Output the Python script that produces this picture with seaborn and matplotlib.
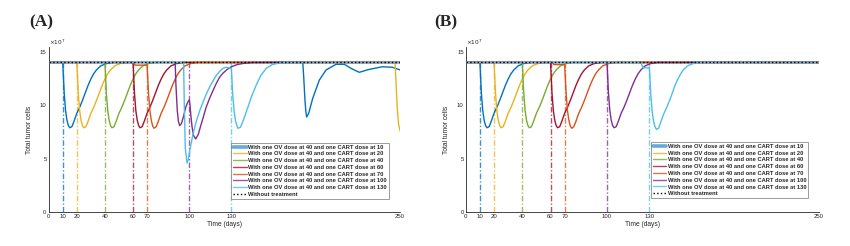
import matplotlib
matplotlib.use("Agg")
import matplotlib.pyplot as plt
import seaborn as sns
import pandas as pd
from matplotlib.lines import Line2D

sns.set_style("white")
plt.rcParams['font.family'] = ['Liberation Sans', 'DejaVu Sans']

# ---------------- data ----------------
LABELS = [
    "With one OV dose at 40 and one CART dose at 10",
    "With one OV dose at 40 and one CART dose at 20",
    "With one OV dose at 40 and one CART dose at 40",
    "With one OV dose at 40 and one CART dose at 60",
    "With one OV dose at 40 and one CART dose at 70",
    "With one OV dose at 40 and one CART dose at 100",
    "With one OV dose at 40 and one CART dose at 130",
]
BASE_LABEL = "Without treatment"
COLORS = ['#0072BD', '#EDB120', '#77AC30', '#A2142F', '#D95319', '#7E2F8E', '#4DBEEE']
CART_DOSES = [10, 20, 40, 60, 70, 100, 130]
STEM_TOP = [14, 14, 14, 14, 14, 14, 14]
XTICKS = [0, 10, 20, 40, 60, 70, 100, 130, 250]
YTICKS = [0, 5, 10, 15]
BASE_T = [0, 250]
BASE_V = [14, 14]

# ---- Panel A (values in units of 1e7 cells) ----
A10_T = [0, 10, 10.5, 11, 12, 13, 14, 15, 16.5, 18, 20, 22, 24, 26, 28, 30, 32, 34, 37, 41, 46,
         180.8, 181.5, 182.3, 183.0, 183.6, 185, 187.9, 192.6, 197.4, 204.5, 210.4, 215.1, 221, 228, 237.5, 244.6, 250]
A10_V = [14, 14, 12.6, 11.2, 9.5, 8.6, 8.1, 7.9, 8.0, 8.5, 9.25, 9.8, 10.45, 11.15, 11.85, 12.45, 12.95, 13.3, 13.68, 13.9, 14.0,
         14.0, 12.6, 10.6, 9.4, 8.9, 9.25, 10.65, 12.36, 13.3, 13.83, 13.83, 13.45, 13.08, 13.35, 13.6, 13.55, 13.3]
A20_T = [0, 20, 20.5, 21, 22, 23, 24, 25, 26.5, 28, 30, 32, 34, 36, 38, 40, 42, 44, 47, 51, 56,
         246.5, 247.2, 248, 249, 250]
A20_V = [14, 14, 12.6, 11.2, 9.5, 8.6, 8.1, 7.9, 8.0, 8.5, 9.25, 9.8, 10.45, 11.15, 11.85, 12.45, 12.95, 13.3, 13.68, 13.9, 14.0,
         14.0, 12.0, 9.8, 8.2, 7.6]
A40_T = [0, 40, 40.5, 41, 42, 43, 44, 45, 46.5, 48, 50, 52, 54, 56, 58, 60, 62, 64, 67, 71, 76, 250]
A40_V = [14, 14, 12.6, 11.2, 9.5, 8.6, 8.1, 7.9, 8.0, 8.5, 9.25, 9.8, 10.45, 11.15, 11.85, 12.45, 12.95, 13.3, 13.68, 13.9, 14.0, 14.0]
A60_T = [0, 60, 60.5, 61, 62, 63, 64, 65, 66.5, 68, 70, 72, 74, 76, 78, 80, 82, 84, 87, 91, 96, 250]
A60_V = [14, 14, 12.6, 11.2, 9.5, 8.6, 8.1, 7.9, 8.0, 8.5, 9.25, 9.8, 10.45, 11.15, 11.85, 12.45, 12.95, 13.3, 13.68, 13.9, 14.0, 14.0]
A70_T = [0, 60, 61.5, 70, 70.5, 71, 72, 73, 74, 75, 76.5, 78, 80, 82, 84, 86, 88, 90, 92, 94, 97, 101, 106, 250]
A70_V = [14, 14, 13.75, 13.75, 12.5, 11.2, 9.5, 8.6, 8.05, 7.85, 8.0, 8.5, 9.25, 9.8, 10.45, 11.15, 11.85, 12.45, 12.95, 13.3, 13.68, 13.9, 14.0, 14.0]
A100_T = [0, 90, 90.5, 91.5, 92.3, 93.2, 94.5, 96, 97.5, 99, 100, 100.5, 101.2, 102, 103, 104.6, 106.5, 108,
          109.8, 112, 114.5, 117, 119.3, 121.5, 124, 127, 130, 134, 138, 145, 250]
A100_V = [14, 14, 12.0, 9.5, 8.5, 8.1, 8.3, 9.0, 9.8, 10.3, 10.5, 10.1, 9.0, 8.0, 7.2, 6.85, 7.3, 8.0,
          8.8, 9.8, 10.65, 11.4, 12.05, 12.6, 13.0, 13.35, 13.6, 13.8, 13.9, 14.0, 14.0]
A130_T = [0, 96, 96.5, 97.2, 98.4, 99.3, 100.3, 102.5, 105, 107.5, 109.8, 112, 114.5, 117, 119.3, 121.5, 124, 126,
          128.7, 130, 130.5, 131, 132, 133, 134.6, 136.5, 138.5, 140.6, 142.5, 144, 146, 147.7, 151, 154.8, 159, 164, 170, 250]
A130_V = [14, 14, 10.0, 6.0, 4.6, 4.9, 5.7, 7.2, 8.5, 9.5, 10.3, 11.0, 11.7, 12.3, 12.8, 13.15, 13.45, 13.55,
          13.5, 13.4, 12.1, 10.9, 9.4, 8.5, 7.85, 7.95, 8.6, 9.4, 10.1, 10.7, 11.35, 11.9, 12.8, 13.45, 13.8, 13.95, 14.0, 14.0]

# ---- Panel B ----
B10_T = [0, 10, 10.5, 11, 12, 13, 14, 15, 16.5, 18, 20, 22, 24, 26, 28, 30, 32, 34, 37, 41, 46, 250]
B10_V = [14, 14, 12.6, 11.2, 9.5, 8.6, 8.1, 7.9, 8.0, 8.5, 9.25, 9.8, 10.45, 11.15, 11.85, 12.45, 12.95, 13.3, 13.68, 13.9, 14.0, 14.0]
B20_T = [0, 20, 20.5, 21, 22, 23, 24, 25, 26.5, 28, 30, 32, 34, 36, 38, 40, 42, 44, 47, 51, 56, 250]
B20_V = [14, 14, 12.6, 11.2, 9.5, 8.6, 8.1, 7.9, 8.0, 8.5, 9.25, 9.8, 10.45, 11.15, 11.85, 12.45, 12.95, 13.3, 13.68, 13.9, 14.0, 14.0]
B40_T = [0, 40, 40.5, 41, 42, 43, 44, 45, 46.5, 48, 50, 52, 54, 56, 58, 60, 62, 64, 67, 71, 76, 250]
B40_V = [14, 14, 12.6, 11.2, 9.5, 8.6, 8.1, 7.9, 8.0, 8.5, 9.25, 9.8, 10.45, 11.15, 11.85, 12.45, 12.95, 13.3, 13.68, 13.9, 14.0, 14.0]
B60_T = [0, 60, 60.5, 61, 62, 63, 64, 65, 66.5, 68, 70, 72, 74, 76, 78, 80, 82, 84, 87, 91, 96, 250]
B60_V = [14, 14, 12.6, 11.2, 9.5, 8.6, 8.1, 7.9, 8.0, 8.5, 9.25, 9.8, 10.45, 11.15, 11.85, 12.45, 12.95, 13.3, 13.68, 13.9, 14.0, 14.0]
B70_T = [0, 61, 62.5, 70, 70.5, 71, 72, 73, 74, 75, 76.5, 78, 80, 82, 84, 86, 88, 90, 92, 94, 97, 101, 106, 250]
B70_V = [14, 14, 13.8, 13.8, 12.5, 11.2, 9.5, 8.6, 8.05, 7.85, 8.0, 8.5, 9.25, 9.8, 10.45, 11.15, 11.85, 12.45, 12.95, 13.3, 13.68, 13.9, 14.0, 14.0]
B100_T = [0, 100, 100.5, 101, 102, 103, 104, 105, 106.5, 108, 110, 112, 114, 116, 118, 120, 122, 124, 127, 131, 136, 250]
B100_V = [14, 14, 12.6, 11.2, 9.5, 8.6, 8.1, 7.9, 8.0, 8.5, 9.25, 9.8, 10.45, 11.15, 11.85, 12.45, 12.95, 13.3, 13.68, 13.9, 14.0, 14.0]
B130_T = [0, 124, 125.5, 130, 130.5, 131, 132, 133, 134, 135, 136.5, 138, 140, 142, 144, 146, 148, 150, 152, 154, 157, 161, 166, 250]
B130_V = [14, 14, 13.5, 13.5, 12.3, 11.0, 9.4, 8.5, 8.0, 7.75, 7.85, 8.4, 9.15, 9.7, 10.35, 11.05, 11.8, 12.4, 12.9, 13.3, 13.68, 13.9, 14.0, 14.0]

A_TIMES = [A10_T, A20_T, A40_T, A60_T, A70_T, A100_T, A130_T]
A_VALUES = [A10_V, A20_V, A40_V, A60_V, A70_V, A100_V, A130_V]
B_TIMES = [B10_T, B20_T, B40_T, B60_T, B70_T, B100_T, B130_T]
B_VALUES = [B10_V, B20_V, B40_V, B60_V, B70_V, B100_V, B130_V]


def build(times, values):
    rows = []
    for lab, ts, vs in zip(LABELS, times, values):
        for t, v in zip(ts, vs):
            rows.append((lab, t, v))
    return pd.DataFrame(rows, columns=["series", "t", "v"])


TXT = '#262626'
fig = plt.figure(figsize=(8.5, 2.46), dpi=100)
axA = fig.add_axes([0.0573, 0.137, 0.4133, 0.670])
axB = fig.add_axes([0.548, 0.137, 0.4153, 0.670])

panels = [(axA, A_TIMES, A_VALUES, "(A)", 0.048, 0.969, 0.081),
          (axB, B_TIMES, B_VALUES, "(B)", 0.525, 0.970, 0.085)]

palette = dict(zip(LABELS, COLORS))
for ax, times, values, tag, tagx, lx, ly in panels:
    df = build(times, values)
    ax.vlines(CART_DOSES, 0, STEM_TOP, colors=COLORS, linestyles=(0, (4, 1.5, 1, 1.5)),
              lw=1.0, alpha=0.75, zorder=2)
    sns.lineplot(data=df, x="t", y="v", hue="series", palette=palette, estimator=None,
                 sort=False, lw=1.0, legend=False, ax=ax, zorder=3)
    sns.lineplot(x=BASE_T, y=BASE_V, color='black', ls=':', lw=1.0, ax=ax, zorder=4)

    ax.set_xlim(0, 250)
    ax.set_ylim(0, 15.4)
    ax.set_xticks(XTICKS)
    ax.set_yticks(YTICKS)
    ax.tick_params(axis='both', direction='in', length=2.5, width=0.6, labelsize=4.3,
                   colors=TXT, pad=1.5)
    for s in ['top', 'right']:
        ax.spines[s].set_visible(False)
    for s in ['left', 'bottom']:
        ax.spines[s].set_color(TXT)
        ax.spines[s].set_linewidth(0.6)
    ax.set_xlabel("Time (days)", fontsize=4.8, color=TXT, labelpad=1.5)
    ax.set_ylabel("Total tumor cells", fontsize=4.8, color=TXT, labelpad=5)
    ax.text(0.0, 1.005, r"$\times10^{7}$", transform=ax.transAxes, fontsize=4.2,
            color=TXT, ha='left', va='bottom')

    handles = [Line2D([0], [0], color=c, lw=(2.6 if i == 0 else 1.0), alpha=(0.6 if i == 0 else 0.8))
               for i, c in enumerate(COLORS)]
    handles.append(Line2D([0], [0], color='black', ls=':', lw=1.0))
    leg = ax.legend(handles, LABELS + [BASE_LABEL], loc='lower right', bbox_to_anchor=(lx, ly),
                    borderaxespad=0, prop={'weight': 'bold', 'size': 4.15},
                    frameon=True, fancybox=False, edgecolor='#8c8c8c', framealpha=1,
                    handlelength=2.3, handletextpad=0.3, labelspacing=0.3, borderpad=0.35)
    leg.get_frame().set_linewidth(0.6)
    for t in leg.get_texts():
        t.set_color(TXT)

    fig.text(tagx, 0.91, tag, fontsize=12.5, fontweight='bold', family='Liberation Serif',
             ha='center', va='center')

fig.savefig("out.png", dpi=100)
